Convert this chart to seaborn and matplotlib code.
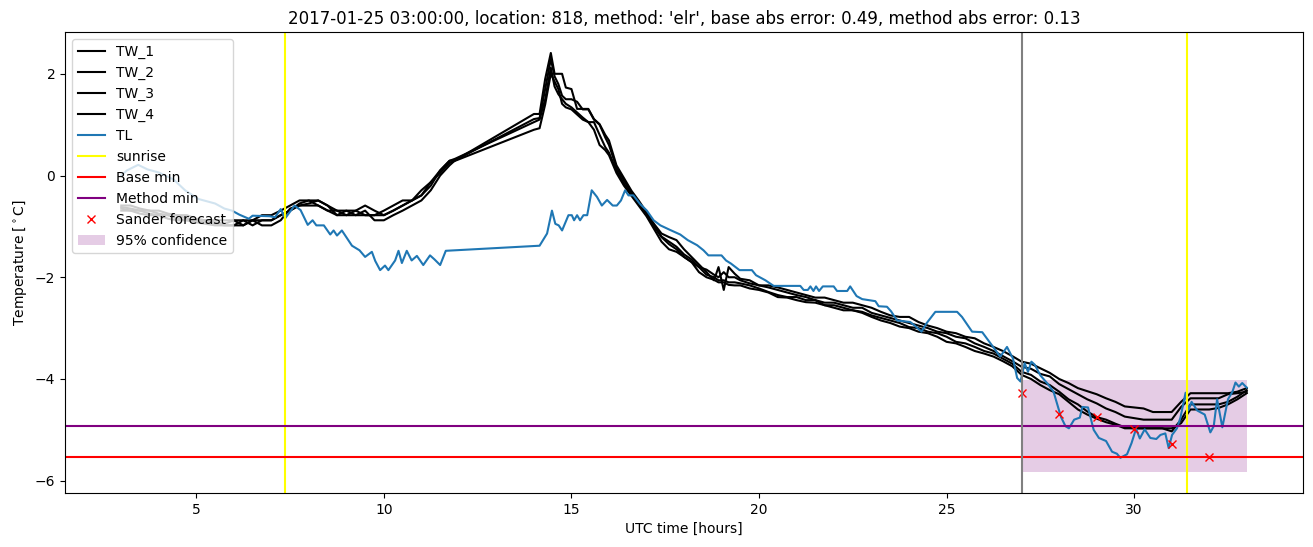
import numpy as np
import pandas as pd
import matplotlib
matplotlib.use("Agg")
import matplotlib.pyplot as plt
import seaborn as sns

# ---------------- data ----------------
tw_hours = [3.0, 3.25, 3.5, 3.75, 4.0, 4.25, 4.5, 4.75, 5.0, 5.25, 5.5, 5.75, 6.0, 6.25, 6.5, 6.75,
            7.0, 7.25, 7.5, 7.75, 8.0, 8.25, 8.5, 8.75, 9.0, 9.25, 9.5, 9.75, 10.0, 10.25, 10.5, 10.75,
            11.0, 11.25, 11.5, 11.75, 11.9,
            14.0, 14.15, 14.3, 14.45, 14.55, 14.65, 14.75, 14.85, 15.0, 15.15, 15.3, 15.45, 15.6, 15.75,
            15.9, 16.0, 16.2, 16.4, 16.6, 16.8, 17.0, 17.2, 17.4, 17.6, 17.8, 18.0, 18.2, 18.4, 18.6,
            18.8, 18.92, 19.06, 19.19, 19.35, 19.5,
            19.75, 20.0, 20.25, 20.5, 20.75, 21.0, 21.25, 21.5, 21.75, 22.0, 22.25, 22.5, 22.75, 23.0,
            23.25, 23.5, 23.75, 24.0, 24.25, 24.5, 24.75, 25.0, 25.25, 25.5, 25.75, 26.0, 26.25, 26.5,
            26.75, 27.0, 27.25, 27.5, 27.75, 28.0, 28.25, 28.5, 28.75, 29.0, 29.25, 29.5, 29.75, 30.0,
            30.25, 30.5, 30.75, 31.0, 31.25, 31.5, 31.75, 32.0, 32.25, 32.5, 32.75, 33.0]

tw_1 = [-0.59, -0.59, -0.65, -0.69, -0.69, -0.75, -0.78, -0.78, -0.85, -0.88, -0.88, -0.88, -0.88, -0.88, -0.88, -0.78,
        -0.78, -0.69, -0.59, -0.49, -0.49, -0.49, -0.59, -0.69, -0.69, -0.69, -0.59, -0.69, -0.78, -0.69, -0.59, -0.49,
        -0.39, -0.2, 0.1, 0.29, 0.3,
        1.21, 1.21, 1.9, 2.41, 2.0, 2.0, 2.0, 1.73, 1.7, 1.31, 1.31, 1.31, 1.11, 1.01,
        0.8, 0.69, 0.2, -0.05, -0.3, -0.5, -0.72, -0.95, -1.14, -1.21, -1.27, -1.45, -1.6, -1.75, -1.9,
        -2.06, -1.8, -2.25, -1.8, -1.93, -2.03,
        -2.06, -2.16, -2.16, -2.2, -2.25, -2.3, -2.35, -2.4, -2.4, -2.45, -2.5, -2.5, -2.55, -2.6,
        -2.68, -2.75, -2.78, -2.78, -2.88, -2.95, -3.0, -3.07, -3.1, -3.17, -3.2, -3.3, -3.37, -3.45,
        -3.55, -3.66, -3.7, -3.79, -3.88, -4.0, -4.08, -4.18, -4.24, -4.3, -4.38, -4.45, -4.54, -4.56,
        -4.58, -4.65, -4.65, -4.65, -4.45, -4.28, -4.28, -4.28, -4.28, -4.28, -4.25, -4.18]

tw_2 = [-0.62, -0.65, -0.69, -0.69, -0.75, -0.78, -0.78, -0.85, -0.88, -0.88, -0.92, -0.95, -0.88, -0.98, -0.88, -0.88,
        -0.88, -0.78, -0.69, -0.55, -0.49, -0.59, -0.69, -0.69, -0.78, -0.78, -0.69, -0.88, -0.88, -0.78, -0.69, -0.59,
        -0.49, -0.29, 0.0, 0.2, 0.3,
        1.11, 1.13, 1.7, 2.29, 1.95, 1.8, 1.57, 1.5, 1.5, 1.45, 1.3, 1.3, 1.1, 1.0,
        0.75, 0.6, 0.16, -0.1, -0.33, -0.55, -0.75, -0.98, -1.2, -1.3, -1.4, -1.55, -1.65, -1.8, -1.85,
        -1.95, -2.0, -1.9, -2.0, -2.0, -2.06,
        -2.12, -2.16, -2.2, -2.25, -2.3, -2.35, -2.39, -2.45, -2.5, -2.5, -2.55, -2.6, -2.6, -2.7,
        -2.75, -2.8, -2.85, -2.9, -2.95, -3.0, -3.07, -3.1, -3.17, -3.2, -3.3, -3.37, -3.45, -3.55,
        -3.65, -3.76, -3.8, -3.9, -3.95, -4.1, -4.2, -4.3, -4.4, -4.48, -4.58, -4.65, -4.74, -4.77,
        -4.8, -4.8, -4.8, -4.8, -4.55, -4.38, -4.38, -4.38, -4.38, -4.3, -4.28, -4.25]

tw_3 = [-0.65, -0.69, -0.69, -0.75, -0.78, -0.78, -0.85, -0.88, -0.88, -0.92, -0.95, -0.98, -0.98, -0.88, -0.98, -0.88,
        -0.88, -0.78, -0.69, -0.59, -0.55, -0.49, -0.59, -0.78, -0.69, -0.78, -0.78, -0.78, -0.69, -0.59, -0.49, -0.49,
        -0.39, -0.13, 0.1, 0.29, 0.33,
        1.05, 1.1, 1.5, 2.12, 1.75, 1.6, 1.5, 1.41, 1.34, 1.24, 1.14, 1.05, 1.05, 0.8,
        0.56, 0.45, 0.1, -0.16, -0.36, -0.56, -0.78, -1.0, -1.21, -1.35, -1.45, -1.6, -1.7, -1.8, -1.95,
        -2.0, -2.06, -2.06, -2.1, -2.1, -2.12,
        -2.16, -2.22, -2.29, -2.35, -2.39, -2.39, -2.45, -2.45, -2.55, -2.55, -2.6, -2.65, -2.68, -2.75,
        -2.8, -2.85, -2.9, -2.98, -3.0, -3.07, -3.1, -3.17, -3.27, -3.3, -3.37, -3.45, -3.5, -3.6,
        -3.7, -3.86, -3.92, -4.05, -4.12, -4.25, -4.4, -4.5, -4.64, -4.75, -4.8, -4.88, -4.95, -4.97,
        -4.97, -4.97, -4.97, -5.03, -4.8, -4.5, -4.5, -4.5, -4.5, -4.45, -4.35, -4.22]

tw_4 = [-0.69, -0.69, -0.75, -0.78, -0.78, -0.85, -0.88, -0.88, -0.92, -0.95, -0.98, -0.98, -0.98, -0.98, -0.88, -0.98,
        -0.98, -0.88, -0.65, -0.59, -0.59, -0.59, -0.69, -0.78, -0.78, -0.69, -0.78, -0.78, -0.78, -0.69, -0.59, -0.49,
        -0.29, -0.13, 0.05, 0.25, 0.29,
        0.9, 0.93, 1.4, 2.0, 1.85, 1.7, 1.41, 1.34, 1.3, 1.2, 1.1, 1.05, 0.9, 0.6,
        0.5, 0.4, 0.05, -0.2, -0.4, -0.6, -0.8, -1.05, -1.3, -1.45, -1.5, -1.6, -1.7, -1.9, -2.0,
        -2.05, -2.1, -2.1, -2.15, -2.16, -2.16,
        -2.22, -2.25, -2.3, -2.39, -2.4, -2.45, -2.49, -2.5, -2.55, -2.6, -2.65, -2.65, -2.7, -2.78,
        -2.85, -2.9, -2.97, -3.0, -3.07, -3.1, -3.17, -3.27, -3.3, -3.37, -3.45, -3.5, -3.56, -3.65,
        -3.75, -3.92, -4.0, -4.12, -4.22, -4.3, -4.45, -4.6, -4.7, -4.78, -4.85, -4.9, -4.97, -4.97,
        -4.97, -4.97, -4.97, -4.97, -4.87, -4.6, -4.6, -4.6, -4.57, -4.5, -4.4, -4.28]

tl_hours = [3.0, 3.15, 3.45, 3.7, 4.0, 4.4, 4.7, 5.05, 5.2, 5.5, 5.75, 5.95, 6.15, 6.4, 6.5, 6.95, 7.1, 7.25,
            7.37, 7.62, 7.78, 7.97, 8.1, 8.2, 8.4, 8.57, 8.66, 8.75, 8.88, 9.15, 9.35, 9.5, 9.68, 9.77, 9.9,
            10.03, 10.12, 10.3, 10.39, 10.48, 10.61, 10.74, 10.88, 11.05, 11.23, 11.35, 11.5, 11.65,
            14.15, 14.35, 14.48, 14.57, 14.66, 14.75, 14.92, 15.01, 15.07, 15.15, 15.23, 15.32, 15.42, 15.54,
            15.68, 15.81, 15.95, 16.1, 16.21, 16.32, 16.43, 16.52, 16.65, 16.83, 17.01, 17.19, 17.37, 17.63,
            17.9, 18.1, 18.35, 18.52, 18.65, 19.0, 19.12, 19.25, 19.48, 19.81, 19.92, 20.17, 20.39, 21.1,
            21.19, 21.3, 21.37, 21.45, 21.52, 21.6, 21.7, 21.99, 22.08, 22.35, 22.43, 22.6, 22.75, 23.1,
            23.19, 23.41, 23.52, 23.68, 24.03, 24.15, 24.33, 24.47, 24.7, 25.28, 25.41, 25.68, 25.95, 26.12,
            26.43, 26.61, 26.77, 26.88, 26.97, 27.08, 27.17, 27.26, 27.35, 27.5, 27.7, 27.85, 27.95, 28.05,
            28.17, 28.26, 28.4, 28.55, 28.62, 28.77, 28.92, 29.06, 29.25, 29.41, 29.54, 29.63, 29.81, 29.93,
            30.05, 30.15, 30.28, 30.43, 30.59, 30.7, 30.83, 30.92, 31.01, 31.14, 31.23, 31.37, 31.44, 31.53,
            31.68, 31.88, 32.03, 32.12, 32.21, 32.35, 32.5, 32.62, 32.7, 32.79, 32.88, 33.0]

tl_values = [0.0, 0.1, 0.21, 0.12, 0.06, -0.08, -0.29, -0.46, -0.49, -0.55, -0.65, -0.69, -0.77, -0.85, -0.79, -0.8, -0.82, -0.66,
             -0.84, -0.59, -0.68, -0.97, -0.88, -0.98, -0.98, -1.16, -1.08, -1.18, -1.08, -1.38, -1.47, -1.6, -1.5, -1.68, -1.86,
             -1.77, -1.86, -1.67, -1.48, -1.72, -1.48, -1.67, -1.58, -1.76, -1.57, -1.65, -1.76, -1.48,
             -1.38, -1.14, -0.69, -0.95, -0.98, -1.08, -0.78, -0.78, -0.88, -0.78, -0.88, -0.78, -0.78, -0.29,
             -0.42, -0.59, -0.48, -0.59, -0.59, -0.49, -0.29, -0.39, -0.39, -0.56, -0.69, -0.88, -0.98, -1.07,
             -1.16, -1.27, -1.37, -1.47, -1.57, -1.57, -1.67, -1.73, -1.86, -1.86, -1.96, -2.06, -2.17, -2.17,
             -2.25, -2.25, -2.18, -2.27, -2.18, -2.27, -2.18, -2.18, -2.27, -2.27, -2.18, -2.37, -2.43, -2.47,
             -2.57, -2.58, -2.67, -2.85, -2.88, -2.95, -3.07, -2.9, -2.68, -2.68, -2.78, -3.07, -3.08, -3.25,
             -3.56, -3.37, -3.6, -3.98, -4.05, -3.69, -3.86, -3.66, -3.72, -3.93, -4.1, -4.25, -4.5, -4.75,
             -4.93, -4.97, -4.8, -4.76, -4.55, -4.56, -5.0, -5.16, -5.22, -5.43, -5.47, -5.55, -5.48, -5.26,
             -4.98, -5.17, -4.99, -5.16, -5.18, -5.1, -5.07, -5.36, -5.1, -4.97, -4.77, -4.27, -4.62, -4.45,
             -4.62, -4.7, -5.05, -4.93, -4.4, -4.95, -4.4, -4.25, -4.07, -4.15, -4.08, -4.17]

sunrise_hours = [7.37, 31.42]
forecast_time = 27.0
sander_hours = [27, 28, 29, 30, 31, 32]
sander_values = [-4.28, -4.69, -4.75, -4.98, -5.28, -5.54]
base_min = -5.54
method_min = -4.93
conf_hours = [27.0, 33.0]
conf_low = [-5.83, -5.83]
conf_high = [-4.03, -4.03]

title = ("2017-01-25 03:00:00, location: 818, method: 'elr', "
         "base abs error: 0.49, method abs error: 0.13")

assert len(tw_hours) == len(tw_1) == len(tw_2) == len(tw_3) == len(tw_4), \
    (len(tw_hours), len(tw_1), len(tw_2), len(tw_3), len(tw_4))
assert len(tl_hours) == len(tl_values), (len(tl_hours), len(tl_values))

# ---------------- plot ----------------
fig = plt.figure(figsize=(13.13, 5.47), dpi=100)
ax = fig.add_axes([65 / 1313, 1 - 493 / 547, 1238 / 1313, 461 / 547])

for name, vals in [("TW_1", tw_1), ("TW_2", tw_2), ("TW_3", tw_3), ("TW_4", tw_4)]:
    sns.lineplot(x=tw_hours, y=vals, color="black", label=name, ax=ax,
                 estimator=None, sort=False, linewidth=1.5)

sns.lineplot(x=tl_hours, y=tl_values, color="#1f77b4", label="TL", ax=ax,
             estimator=None, sort=False, linewidth=1.5)

ax.axvline(sunrise_hours[0], color="yellow", label="sunrise")
ax.axvline(sunrise_hours[1], color="yellow")
ax.axhline(base_min, color="red", label="Base min")
ax.axhline(method_min, color="purple", label="Method min")
ax.plot(sander_hours, sander_values, "rx", label="Sander forecast")
ax.fill_between(conf_hours, conf_low, conf_high, color="purple", alpha=0.2,
                linewidth=0, label="95% confidence")
ax.axvline(forecast_time, color="gray")

ax.set_title(title, fontsize=12)
ax.set_xlabel("UTC time [hours]")
ax.set_ylabel(r"Temperature [$^\circ$C]")
ax.legend(loc="upper left")

fig.savefig("out.png", dpi=100)
